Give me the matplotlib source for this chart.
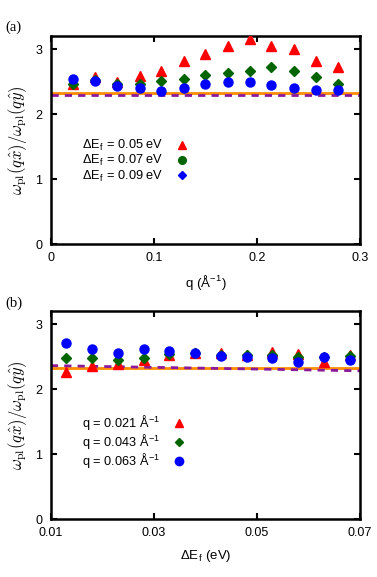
import matplotlib
matplotlib.use("Agg")
import matplotlib.pyplot as plt
from matplotlib.lines import Line2D

plt.rcParams['font.family'] = ['Liberation Sans', 'DejaVu Sans']
plt.rcParams['mathtext.fontset'] = 'cm'

# panel (a): ratio vs q
q = [0.021, 0.043, 0.064, 0.086, 0.107, 0.129, 0.150, 0.172, 0.193, 0.214, 0.236, 0.257, 0.279]
ratio_e005 = [2.47, 2.57, 2.50, 2.59, 2.67, 2.82, 2.93, 3.04, 3.15, 3.05, 3.00, 2.82, 2.72]
ratio_e007 = [2.46, 2.53, 2.47, 2.46, 2.51, 2.54, 2.60, 2.63, 2.67, 2.72, 2.67, 2.57, 2.47]
ratio_e009 = [2.54, 2.51, 2.43, 2.40, 2.36, 2.40, 2.46, 2.50, 2.49, 2.45, 2.40, 2.37, 2.37]
orange_a = 2.33
dashed_a = 2.30

# panel (b): ratio vs Delta E_f
ef = [0.013, 0.018, 0.023, 0.028, 0.033, 0.038, 0.043, 0.048, 0.053, 0.058, 0.063, 0.068]
ratio_q021 = [2.26, 2.35, 2.39, 2.44, 2.52, 2.56, 2.56, 2.53, 2.57, 2.54, 2.41, 2.53]
ratio_q043 = [2.48, 2.47, 2.45, 2.47, 2.54, 2.55, 2.52, 2.53, 2.53, 2.50, 2.50, 2.51]
ratio_q063 = [2.71, 2.62, 2.55, 2.62, 2.59, 2.56, 2.51, 2.50, 2.47, 2.42, 2.50, 2.45]
orange_b = 2.33
dashed_b_x = [0.01, 0.07]
dashed_b_y = [2.36, 2.28]

red = '#ff0000'
green = '#006400'
blue = '#0000ff'
orange = '#ff8c00'
purple = '#8b1a9b'

fig = plt.figure(figsize=(3.77, 5.77), dpi=100)
ax1 = fig.add_axes([0.135, 0.577, 0.820, 0.3605])
ax2 = fig.add_axes([0.135, 0.1005, 0.820, 0.3605])

ylab = r'$\omega_{\rm pl}(q\hat{x})/\omega_{\rm pl}(q\hat{y})$'

def style(ax):
    for s in ax.spines.values():
        s.set_linewidth(1.8)
    ax.tick_params(direction='in', length=4, width=1.5, top=True, right=True,
                   labelsize=9, pad=6)
    ax.set_ylim(0, 3.2)
    ax.set_yticks([0, 1, 2, 3])
    ax.set_ylabel(ylab, fontsize=12, labelpad=5)

# (a)
ax1.axhline(orange_a, color=orange, lw=2, zorder=1)
ax1.axhline(dashed_a, color=purple, lw=2, ls=(0, (2.6, 2.2)), zorder=1)
ax1.plot(q, ratio_e005, '^', color=red, ms=6.5, ls='none', zorder=3)
ax1.plot(q, ratio_e007, 'D', color=green, ms=5, ls='none', zorder=4)
ax1.plot(q, ratio_e009, 'o', color=blue, ms=6.5, ls='none', zorder=5)
ax1.set_xlim(0, 0.3)
ax1.set_xticks([0, 0.1, 0.2, 0.3])
ax1.set_xticklabels(['0', '0.1', '0.2', '0.3'])
ax1.set_xlabel('q (Å$^{\\mathregular{-1}}$)', fontsize=9.5, labelpad=6)
style(ax1)
h1 = [Line2D([], [], marker='^', color=red, ls='none', ms=6),
      Line2D([], [], marker='o', color=green, ls='none', ms=5.5),
      Line2D([], [], marker='D', color=blue, ls='none', ms=4.5)]
l1 = ['ΔE$_{\\mathregular{f}}$ = 0.05 eV', 'ΔE$_{\\mathregular{f}}$ = 0.07 eV',
      'ΔE$_{\\mathregular{f}}$ = 0.09 eV']
ax1.legend(h1, l1, loc='upper left', bbox_to_anchor=(0.08, 0.54), frameon=False,
           markerfirst=False, fontsize=9.2, handletextpad=0.9, labelspacing=0.0,
           borderpad=0, handlelength=1.2)
fig.text(0.015, 0.953, '(a)', family='Liberation Serif', fontsize=10.5, va='center')

# (b)
ax2.axhline(orange_b, color=orange, lw=2, zorder=1)
ax2.plot(dashed_b_x, dashed_b_y, color=purple, lw=2, ls=(0, (2.6, 2.2)), zorder=1)
ax2.plot(ef, ratio_q021, '^', color=red, ms=6.5, ls='none', zorder=3)
ax2.plot(ef, ratio_q043, 'D', color=green, ms=5, ls='none', zorder=4)
ax2.plot(ef, ratio_q063, 'o', color=blue, ms=6.5, ls='none', zorder=5)
ax2.set_xlim(0.01, 0.07)
ax2.set_xticks([0.01, 0.03, 0.05, 0.07])
ax2.set_xticklabels(['0.01', '0.03', '0.05', '0.07'])
ax2.set_xlabel('ΔE$_{\\mathregular{f}}$ (eV)', fontsize=9.5, labelpad=6)
style(ax2)
h2 = [Line2D([], [], marker='^', color=red, ls='none', ms=6),
      Line2D([], [], marker='D', color=green, ls='none', ms=4.5),
      Line2D([], [], marker='o', color=blue, ls='none', ms=6)]
l2 = ['q = 0.021 Å$^{\\mathregular{-1}}$', 'q = 0.043 Å$^{\\mathregular{-1}}$',
      'q = 0.063 Å$^{\\mathregular{-1}}$']
ax2.legend(h2, l2, loc='upper left', bbox_to_anchor=(0.08, 0.54), frameon=False,
           markerfirst=False, fontsize=9.2, handletextpad=0.9, labelspacing=0.0,
           borderpad=0, handlelength=1.2)
fig.text(0.015, 0.475, '(b)', family='Liberation Serif', fontsize=10.5, va='center')

fig.savefig('out.png', dpi=100)
